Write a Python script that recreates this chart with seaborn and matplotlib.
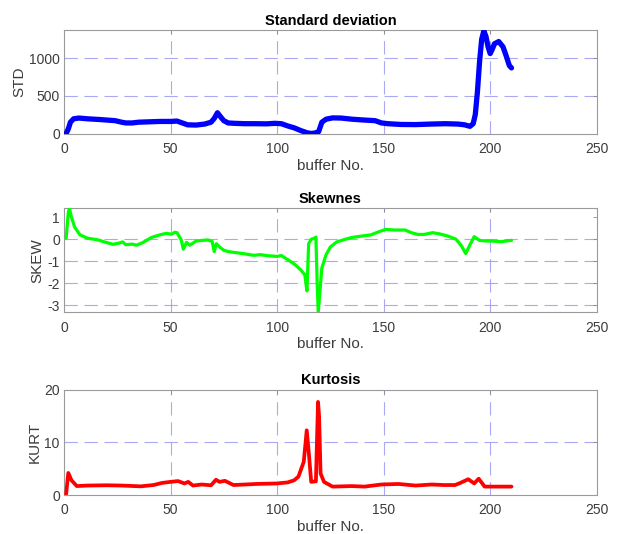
import numpy as np
import pandas as pd
import matplotlib
matplotlib.use("Agg")
import matplotlib.pyplot as plt
import seaborn as sns

# ---- data: statistics per buffer ----
std_buf = [1, 2, 3, 4.5, 7, 11, 17, 24, 27, 29, 32, 35, 40, 45, 50, 53, 55, 58, 62, 66,
           69, 70.5, 72, 73.5, 75, 77, 80, 85, 90, 95, 99, 102, 105, 108, 111, 114, 116,
           118, 119.5, 121, 123, 126, 130, 135, 140, 146, 149, 152, 158, 165, 172, 179,
           185, 188, 190.5, 192, 193, 194, 195, 196, 197, 198, 199, 200, 201, 202, 204,
           206, 207.5, 209, 210]
std_val = [0, 60, 150, 195, 205, 195, 185, 170, 150, 140, 140, 150, 155, 160, 160, 165,
           145, 115, 112, 125, 150, 200, 275, 220, 170, 140, 135, 130, 130, 128, 135, 130,
           100, 75, 40, 10, 0, 8, 25, 150, 190, 207, 205, 190, 180, 170, 140, 130, 120,
           118, 125, 130, 125, 115, 95, 130, 250, 550, 950, 1250, 1360, 1290, 1150, 1060,
           1120, 1190, 1220, 1150, 1030, 900, 870]

skew_buf = [1, 2, 2.5, 3.5, 5, 7.5, 11, 16, 20, 23, 26, 27.5, 29, 32, 34, 37, 41, 45, 48,
            50.5, 52, 53, 55, 56, 57.5, 59, 62, 65, 67.5, 69.5, 70.5, 71.5, 73, 75, 77,
            80, 84, 89, 92, 96, 100, 102, 105, 108, 111, 113, 114, 114.8, 116, 117.5,
            118.2, 118.8, 119.3, 121, 123, 125, 128, 132, 135, 140, 144, 148, 151, 155,
            160, 163, 166, 169, 173, 176, 180, 184, 186.5, 188.5, 190.5, 192.5, 195, 198,
            201, 205, 209, 210]
skew_val = [0.05, 1.2, 1.41, 1.0, 0.55, 0.2, 0.05, -0.03, -0.15, -0.23, -0.17, -0.12,
            -0.25, -0.22, -0.27, -0.15, 0.08, 0.2, 0.27, 0.23, 0.32, 0.3, -0.03, -0.45,
            -0.14, -0.27, -0.08, -0.05, -0.03, -0.1, -0.56, -0.2, -0.35, -0.5, -0.56,
            -0.6, -0.65, -0.73, -0.7, -0.75, -0.78, -0.74, -0.93, -1.12, -1.38, -1.62,
            -2.35, -0.2, 0.0, 0.05, 0.1, -2.0, -3.32, -1.3, -0.7, -0.35, -0.12, 0.0, 0.08,
            0.15, 0.2, 0.35, 0.45, 0.42, 0.42, 0.3, 0.22, 0.22, 0.3, 0.25, 0.15, 0.0,
            -0.3, -0.65, -0.25, 0.12, -0.05, -0.08, -0.08, -0.11, -0.06, -0.05]

kurt_buf = [1, 2, 3.5, 6, 11, 20, 27, 36, 42, 46, 50, 53.5, 56.5, 58.3, 60.5, 64.5, 69,
            71.3, 73, 75.5, 79.5, 85, 90, 95, 100, 105, 108, 110, 112.5, 113.9, 114.9,
            116, 118.2, 119.2, 119.7, 120.4, 122, 126, 135, 141, 149, 157, 165, 172.6,
            178, 183.5, 186, 189.7, 192.5, 194.6, 197.4, 203.6, 210]
kurt_val = [0.2, 4.2, 2.8, 1.7, 1.8, 1.85, 1.8, 1.65, 1.9, 2.3, 2.5, 2.65, 2.2, 2.5, 1.8,
            2.0, 1.85, 2.9, 2.5, 2.7, 1.9, 2.0, 2.1, 2.15, 2.2, 2.4, 2.8, 3.5, 6.3, 12.3,
            7.9, 2.5, 2.6, 17.7, 15.0, 4.1, 2.5, 1.6, 1.7, 1.6, 2.0, 2.1, 1.8, 2.0, 1.9,
            1.9, 2.3, 3.0, 2.2, 3.1, 1.6, 1.6, 1.6]

x_ticks = [0, 50, 100, 150, 200, 250]

panels = [
    dict(buf=std_buf, val=std_val, title="Standard deviation", ylabel="STD",
         color="#0000ff", lw=3.8, ylim=(0, 1370), yticks=[0, 500, 1000],
         ygrid=[500, 1000], rect=[0.1036, 0.750, 0.862, 0.1934]),
    dict(buf=skew_buf, val=skew_val, title="Skewnes", ylabel="SKEW",
         color="#00ff00", lw=2.3, ylim=(-3.32, 1.41), yticks=[-3, -2, -1, 0, 1],
         ygrid=[-3, -2, -1, 0], rect=[0.1036, 0.4152, 0.862, 0.1948]),
    dict(buf=kurt_buf, val=kurt_val, title="Kurtosis", ylabel="KURT",
         color="#ff0000", lw=2.7, ylim=(0, 20), yticks=[0, 10, 20],
         ygrid=[10], rect=[0.1036, 0.073, 0.862, 0.197]),
]

sns.set_theme(style="white")
plt.rcParams["font.family"] = ["Liberation Sans", "DejaVu Sans"]
plt.rcParams["axes.unicode_minus"] = False

fig = plt.figure(figsize=(6.18, 5.34), dpi=100)
grid_kw = dict(color="#9a9af5", lw=0.8, ls=(0, (12, 6)), alpha=0.85, zorder=0)
text_col = "#3c3c3c"

for p in panels:
    ax = fig.add_axes(p["rect"])
    df = pd.DataFrame({"buffer": p["buf"], "value": p["val"]})
    sns.lineplot(data=df, x="buffer", y="value", ax=ax, color=p["color"],
                 lw=p["lw"], solid_capstyle="round", solid_joinstyle="round",
                 zorder=3)
    ax.set_xlim(0, 250)
    ax.set_ylim(*p["ylim"])
    ax.set_xticks(x_ticks)
    ax.set_yticks(p["yticks"])
    for gx in x_ticks[1:-1]:
        ax.axvline(gx, **grid_kw)
    for gy in p["ygrid"]:
        ax.axhline(gy, **grid_kw)
    ax.set_title(p["title"], fontsize=10.5, fontweight="bold", color="black", pad=4)
    ax.set_xlabel("buffer No.", fontsize=11, color=text_col, labelpad=2)
    ax.set_ylabel(p["ylabel"], fontsize=11, color=text_col, labelpad=2)
    ax.tick_params(axis="both", direction="in", length=3, width=0.6,
                   colors="#8a8a8a", labelcolor=text_col, labelsize=10,
                   top=True, right=True)
    ax.tick_params(axis="x", pad=6)
    ax.tick_params(axis="y", pad=3)
    for s in ax.spines.values():
        s.set_color("#9a9a9a")
        s.set_linewidth(0.8)

fig.savefig("out.png", dpi=100, facecolor="white")
